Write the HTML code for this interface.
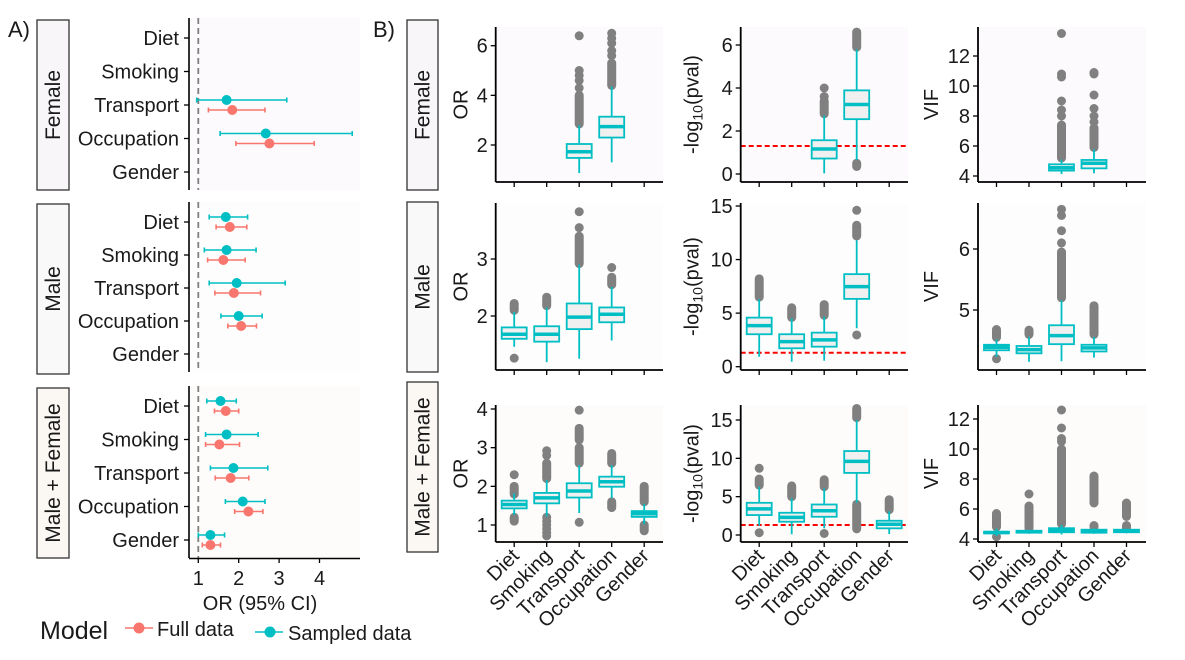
<!DOCTYPE html>
<html><head><meta charset="utf-8"><style>
body{margin:0;background:#fff;}
svg{display:block;font-family:"Liberation Sans",sans-serif;}
</style></head><body>
<svg id="fig" width="1185" height="660" viewBox="0 0 1185 660" xmlns="http://www.w3.org/2000/svg"></svg>
<script>
// ---------- DATA ----------
const categories = ["Diet","Smoking","Transport","Occupation","Gender"];
const strata = ["Female","Male","Male + Female"];
const xTicksA = [1,2,3,4];
// forest plot: [estimate, lo, hi] per category (null = none)
const sampledFemale = [null,null,[1.70,0.96,3.19],[2.67,1.54,4.81],null];
const fullFemale    = [null,null,[1.84,1.25,2.65],[2.76,1.93,3.87],null];
const sampledMale   = [[1.68,1.27,2.22],[1.70,1.15,2.43],[1.95,1.27,3.15],[2.00,1.56,2.58],null];
const fullMale      = [[1.78,1.44,2.20],[1.62,1.23,2.16],[1.88,1.41,2.54],[2.06,1.73,2.44],null];
const sampledBoth   = [[1.55,1.21,1.94],[1.70,1.18,2.48],[1.87,1.30,2.72],[2.10,1.67,2.65],[1.30,1.00,1.65]];
const fullBoth      = [[1.68,1.40,2.00],[1.52,1.18,2.02],[1.80,1.42,2.25],[2.24,1.90,2.60],[1.30,1.10,1.55]];

// box stats: [whiskerLo, q1, median, q3, whiskerHi]
const orFemale  = [null,null,[0.87,1.48,1.73,2.04,2.80],[1.30,2.30,2.74,3.14,4.35],null];
const orMale    = [[1.46,1.60,1.68,1.80,2.07],[1.19,1.55,1.68,1.82,2.15],[1.25,1.77,1.98,2.22,2.90],[1.57,1.89,2.03,2.15,2.51],null];
const orBoth    = [[1.26,1.43,1.53,1.63,1.82],[1.22,1.56,1.70,1.83,2.16],[1.31,1.71,1.88,2.08,2.55],[1.69,1.99,2.12,2.25,2.55],[1.02,1.21,1.29,1.36,1.55]];
const pvFemale  = [null,null,[0.03,0.72,1.16,1.57,2.73],[0.65,2.55,3.23,3.89,5.80],null];
const pvMale    = [[0.93,3.03,3.83,4.58,6.30],[0.47,1.72,2.34,3.03,4.52],[0.56,1.87,2.50,3.18,4.67],[3.59,6.33,7.48,8.64,11.8],null];
const pvBoth    = [[1.20,2.60,3.40,4.20,6.30],[0.10,1.73,2.30,2.90,4.80],[0.87,2.38,3.16,3.98,6.06],[4.20,8.10,9.60,10.95,15.0],[0.13,0.87,1.40,1.86,3.10]];
const vifFemale = [null,null,[4.13,4.36,4.55,4.78,5.10],[4.18,4.51,4.85,5.07,5.78],null];
const vifMale   = [[4.23,4.34,4.39,4.43,4.52],[4.15,4.29,4.35,4.41,4.56],[4.16,4.44,4.58,4.75,5.16],[4.22,4.32,4.38,4.43,4.56],null];
const vifBoth   = [[4.20,4.38,4.43,4.48,4.70],[4.35,4.42,4.48,4.55,4.60],[4.30,4.45,4.60,4.72,4.95],[4.35,4.42,4.52,4.62,4.70],[4.38,4.45,4.53,4.62,4.68]];

// outliers: number = single point, [a,b] = dense run of points
const orFemaleOut  = [[],[],[[2.85,4.0],4.3,4.6,4.8,5.0,6.4],[[4.4,5.3],5.6,5.8,6.1,6.3,6.5],[]];
const orMaleOut    = [[[2.1,2.22],1.26],[[2.18,2.33]],[[2.92,3.4],3.55,3.83],[[2.55,2.68],2.85],[]];
const orBothOut    = [[[1.1,1.2],[1.8,2.0],2.3],[0.72,0.8,0.9,1.0,1.1,1.2,[2.2,2.6],2.8,2.92],[1.07,[2.6,3.0],[3.2,3.5],3.97],[[1.45,1.6],[2.6,2.85]],[[0.85,1.0],[1.6,2.0]]];
const pvFemaleOut  = [[],[],[[2.8,3.4],3.6,4.0],[[5.9,6.6],[0.35,0.5]],[]];
const pvMaleOut    = [[[6.5,8.2]],[[4.6,5.5]],[[4.8,5.8]],[[12.2,13.2],14.6,2.96],[]];
const pvBothOut    = [[[6.5,7.3],8.7,0.3],[[5.0,6.4]],[[6.3,7.2],0.2],[[15.3,16.5],[0.8,4.0]],[[3.3,4.6]]];
const vifFemaleOut = [[],[],[[5.2,7.4],8.0,8.4,9.0,10.6,10.8,13.5],[[5.9,7.2],7.6,8.0,8.5,9.4,10.8,10.9],[]];
const vifMaleOut   = [[[4.55,4.68],4.2],[[4.6,4.67]],[[5.2,5.95],6.1,6.3,6.55,6.65],[[4.6,5.07]],[]];
const vifBothOut   = [[[4.8,5.7],4.15],[[4.7,6.2],7.0],[[5.0,10.0],10.5,10.7,11.4,12.6],[[4.8,4.9],[6.4,8.2]],[[4.7,4.9],[5.5,6.4]]];

const orTicksF=[2,4,6], orTicksM=[2,3], orTicksB=[1,2,3,4];
const pvTicksF=[0,2,4,6], pvTicksM=[0,5,10,15], pvTicksB=[0,5,10,15];
const vifTicksF=[4,6,8,10,12], vifTicksM=[5,6], vifTicksB=[4,6,8,10,12];
const pThreshold = 1.301;

// ---------- DRAWING ----------
const NS="http://www.w3.org/2000/svg", svg=document.getElementById('fig');
function mk(tag,attrs,parent,txt){const e=document.createElementNS(NS,tag);for(const k in attrs)e.setAttribute(k,attrs[k]);if(txt!==undefined)e.textContent=txt;(parent||svg).appendChild(e);return e;}
const CYAN="#00BFC4", RED="#F8766D", TXT="#1a1a1a";
const FS=20;
const rowBg=["#fcfafc","#fdfdfd","#fdfcfa"], stripBg=["#f8f6f9","#f9f9f9","#fbf8f4"];

let t=mk('text',{x:8,y:37,'font-size':22,fill:TXT},svg,'A)');

t=mk('text',{x:373,y:37,'font-size':22,fill:TXT},svg,'B)');


function strip(x,y,w,h,label,i,name){
  const g=mk('g',{});
  
  
  mk('rect',{x:x,y:y,width:w,height:h,fill:stripBg[i],stroke:'#333','stroke-width':1.3},g);
  const cx=x+w/2, cy=y+h/2;
  mk('text',{x:cx,y:cy+7,'font-size':21,fill:TXT,'text-anchor':'middle',transform:`rotate(-90 ${cx} ${cy})`},g,label);
}

// ---- Panel A: forest ----
const ax0=189, ax1=360, xA=v=>198.3+(v-1)*40.4;
const aRows=[[18,190],[202,372],[386,558]];
const aSampled=[sampledFemale,sampledMale,sampledBoth], aFull=[fullFemale,fullMale,fullBoth];
const stripNames=['female','male','male-female'];
aRows.forEach((r,i)=>{
  const g=mk('g',{});
  
  
  mk('rect',{x:ax0,y:r[0],width:ax1-ax0,height:r[1]-r[0],fill:rowBg[i]},g);
  mk('line',{x1:xA(1),x2:xA(1),y1:r[0],y2:r[1],stroke:'#808080','stroke-width':1.8,'stroke-dasharray':'6,4'},g);
  mk('line',{x1:ax0,x2:ax0,y1:r[0],y2:r[1],stroke:'#000','stroke-width':1.6},g);
  const step=(r[1]-r[0]-38)/4;
  categories.forEach((c,k)=>{
    const y=r[0]+20+k*step;
    mk('line',{x1:ax0-5,x2:ax0,y1:y,y2:y,stroke:'#000','stroke-width':1.3},g);
    const lt=mk('text',{x:ax0-10,y:y+7,'font-size':FS,fill:TXT,'text-anchor':'end'},g,c);
    
    
    [[aSampled[i][k],-5,CYAN,'sampled'],[aFull[i][k],5,RED,'full']].forEach(([d,off,col,nm])=>{
      if(!d) return;
      const yy=y+off;
      const eg=mk('g',{},g);
      
      
      mk('line',{x1:xA(d[1]),x2:xA(d[2]),y1:yy,y2:yy,stroke:col,'stroke-width':1.6},eg);
      mk('line',{x1:xA(d[1]),x2:xA(d[1]),y1:yy-2.5,y2:yy+2.5,stroke:col,'stroke-width':1.6},eg);
      mk('line',{x1:xA(d[2]),x2:xA(d[2]),y1:yy-2.5,y2:yy+2.5,stroke:col,'stroke-width':1.6},eg);
      mk('circle',{cx:xA(d[0]),cy:yy,r:5,fill:col},eg);
    });
  });
  strip(37,r[0]+2,32,170,strata[i],i,'strip-a-'+stripNames[i]);
});
mk('line',{x1:ax0,x2:ax1,y1:558.5,y2:558.5,stroke:'#000','stroke-width':1.6});
xTicksA.forEach(v=>{
  mk('line',{x1:xA(v),x2:xA(v),y1:558,y2:563,stroke:'#000','stroke-width':1.3});
  const tt=mk('text',{x:xA(v),y:585,'font-size':FS,fill:TXT,'text-anchor':'middle'},svg,v);
  
  
});
t=mk('text',{x:260,y:610,'font-size':FS,fill:TXT,'text-anchor':'middle'},svg,'OR (95% CI)');


const lg=mk('g',{});


mk('text',{x:40,y:639,'font-size':25,fill:TXT},lg,'Model');
const le1=mk('g',{},lg);


mk('line',{x1:125,x2:153,y1:628,y2:628,stroke:RED,'stroke-width':1.6},le1);
mk('circle',{cx:139,cy:628,r:5.5,fill:RED},le1);
mk('text',{x:157,y:636,'font-size':FS,fill:TXT},le1,'Full data');
const le2=mk('g',{},lg);


mk('line',{x1:255,x2:283,y1:632,y2:632,stroke:CYAN,'stroke-width':1.6},le2);
mk('circle',{cx:270,cy:632,r:5.5,fill:CYAN},le2);
mk('text',{x:288,y:640,'font-size':FS,fill:TXT},le2,'Sampled data');

// ---- Panel B: boxplots ----
const cols=[{x0:495.7,x1:663,lab:'OR'},{x0:740.7,x1:908,lab:'pval'},{x0:978,x1:1146,lab:'VIF'}];
const rows=[{top:27,bot:182},{top:203,bot:370},{top:405,bot:542}];
const scales=[
 [[2,145,6,45.7],[2,316,3,259],[1,525,4,409]],
 [[0,174,6,45],[0,366.7,15,206],[0,535,15,420]],
 [[4,176,12,56],[5,310,6,249],[4,539,12,419]]];
const boxes=[[orFemale,orMale,orBoth],[pvFemale,pvMale,pvBoth],[vifFemale,vifMale,vifBoth]];
const outs=[[orFemaleOut,orMaleOut,orBothOut],[pvFemaleOut,pvMaleOut,pvBothOut],[vifFemaleOut,vifMaleOut,vifBothOut]];
const ticks=[[orTicksF,orTicksM,orTicksB],[pvTicksF,pvTicksM,pvTicksB],[vifTicksF,vifTicksM,vifTicksB]];
const colNames=['or','pval','vif'];

cols.forEach((c,ci)=>{
  rows.forEach((r,ri)=>{
    const s=scales[ci][ri], k=(s[3]-s[1])/(s[2]-s[0]);
    const Y=v=>s[1]+(v-s[0])*k;
    const X=j=>c.x0+18.5+j*32.5;
    const g=mk('g',{});
    
    
    mk('rect',{x:c.x0,y:r.top,width:c.x1-c.x0,height:r.bot-r.top,fill:rowBg[ri]},g);
    if(ci===1){
      const rl=mk('line',{x1:c.x0,x2:c.x1,y1:Y(pThreshold),y2:Y(pThreshold),stroke:'#ff0000','stroke-width':2,'stroke-dasharray':'5,3'},g);
      
      
    }
    outs[ci][ri].forEach((arr,j)=>{
      arr.forEach(o=>{
        let m;
        if(Array.isArray(o)) m=mk('line',{x1:X(j),x2:X(j),y1:Y(o[0]),y2:Y(o[1]),stroke:'#808080','stroke-width':9,'stroke-linecap':'round'},g);
        else m=mk('circle',{cx:X(j),cy:Y(o),r:4.5,fill:'#808080'},g);
        
        
      });
    });
    boxes[ci][ri].forEach((b,j)=>{
      if(!b) return;
      const bg=mk('g',{},g);
      
      
      const x=X(j), w=25;
      mk('line',{x1:x,x2:x,y1:Y(b[0]),y2:Y(b[4]),stroke:CYAN,'stroke-width':1.8},bg);
      mk('rect',{x:x-w/2,y:Y(b[3]),width:w,height:Math.max(Y(b[1])-Y(b[3]),1),fill:'#f0f0f0',stroke:CYAN,'stroke-width':1.8},bg);
      mk('line',{x1:x-w/2,x2:x+w/2,y1:Y(b[2]),y2:Y(b[2]),stroke:CYAN,'stroke-width':3.5},bg);
    });
    mk('line',{x1:c.x0,x2:c.x0,y1:r.top,y2:r.bot,stroke:'#000','stroke-width':1.8},g);
    mk('line',{x1:c.x0,x2:c.x1,y1:r.bot,y2:r.bot,stroke:'#000','stroke-width':1.8},g);
    categories.forEach((cat,j)=>{
      mk('line',{x1:X(j),x2:X(j),y1:r.bot,y2:r.bot+5,stroke:'#000','stroke-width':1.3},g);
      if(ri===2){
        const tx=X(j)+6, ty=r.bot+15;
        const lt=mk('text',{x:tx,y:ty,'font-size':FS,fill:TXT,'text-anchor':'end',transform:`rotate(-45 ${tx} ${ty})`},g,cat);
        
        
      }
    });
    ticks[ci][ri].forEach(v=>{
      mk('line',{x1:c.x0-5,x2:c.x0,y1:Y(v),y2:Y(v),stroke:'#000','stroke-width':1.3},g);
      const lt=mk('text',{x:c.x0-8,y:Y(v)+7,'font-size':FS,fill:TXT,'text-anchor':'end'},g,v);
      
      
    });
    const cy=(r.top+r.bot)/2;
    let yl;
    if(ci===1){
      const lx=c.x0-42;
      yl=mk('text',{x:lx,y:cy,'font-size':FS,fill:TXT,'text-anchor':'middle',transform:`rotate(-90 ${lx} ${cy})`},g);
      yl.appendChild(document.createTextNode('-log'));
      mk('tspan',{'font-size':14,dy:4},yl,'10');
      mk('tspan',{dy:-4},yl,'(pval)');
    } else {
      const lx = ci===0 ? c.x0-28 : c.x0-40;
      yl=mk('text',{x:lx,y:cy,'font-size':FS,fill:TXT,'text-anchor':'middle',transform:`rotate(-90 ${lx} ${cy})`},g,c.lab);
    }
    
    
  });
});
[[20,190],[202,372],[382,552]].forEach((r,i)=>strip(407,r[0],31,r[1]-r[0],strata[i],i,'strip-b-'+stripNames[i]));
</script>
</body></html>
